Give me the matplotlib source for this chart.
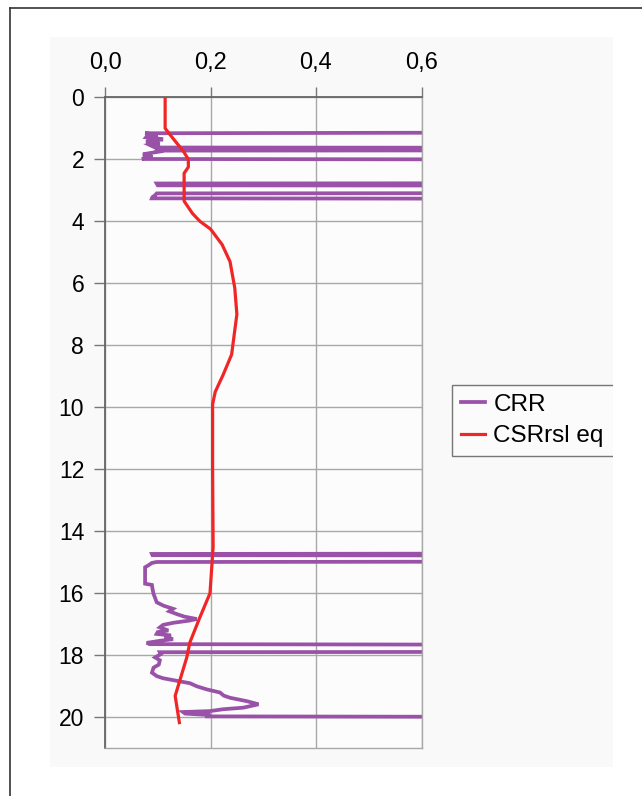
import matplotlib
matplotlib.use("Agg")
import matplotlib.pyplot as plt
from matplotlib.lines import Line2D
from matplotlib.patches import Rectangle

plt.rcParams['font.family'] = ['Liberation Sans', 'DejaVu Sans']

W, H = 642, 796

# CRR profile (depth m, value); 2.0 = off-scale (non liquefiable)
crr_depth = [1.10, 1.16, 1.19, 1.22, 1.25, 1.29, 1.33, 1.36, 1.40, 1.43, 1.47, 1.50,
             1.54, 1.58, 1.62, 1.64, 1.70, 1.72, 1.76, 1.80, 1.84, 1.88, 1.92, 1.96,
             1.99, 2.03, 2.76, 2.78, 2.84, 2.86, 3.08, 3.10, 3.16, 3.22, 3.26, 3.29,
             14.70, 14.73, 14.77, 14.80, 14.96, 14.99, 15.02, 15.10, 15.16, 15.40,
             15.69, 15.73, 15.85, 16.02, 16.15, 16.29, 16.40, 16.45, 16.50, 16.58,
             16.67, 16.75, 16.83, 16.88, 16.95, 17.02, 17.10, 17.20, 17.25, 17.31,
             17.36, 17.42, 17.48, 17.53, 17.60, 17.64, 17.69, 17.87, 17.90, 17.96,
             18.07, 18.16, 18.30, 18.40, 18.56, 18.67, 18.74, 18.80, 18.86, 18.90,
             19.00, 19.10, 19.20, 19.30, 19.37, 19.48, 19.58, 19.69, 19.74, 19.80,
             19.83, 19.88, 19.93, 19.97, 20.02]
crr_value = [2.0, 0.076, 0.090, 0.100, 0.080, 0.078, 0.100, 0.110, 0.085, 0.078, 0.090, 0.104,
             0.085, 0.090, 0.095, 2.0, 2.0, 0.095, 0.100, 0.085, 0.072, 0.080, 0.090, 0.075,
             0.070, 2.0, 2.0, 0.098, 0.100, 2.0, 2.0, 0.098, 0.095, 0.090, 0.089, 2.0,
             2.0, 0.089, 0.090, 2.0, 2.0, 0.098, 0.089, 0.082, 0.076, 0.076,
             0.076, 0.089, 0.090, 0.092, 0.095, 0.098, 0.111, 0.120, 0.129, 0.122,
             0.136, 0.150, 0.174, 0.160, 0.130, 0.110, 0.104, 0.120, 0.100, 0.098,
             0.125, 0.113, 0.129, 0.105, 0.079, 0.085, 2.0, 2.0, 0.104, 0.106,
             0.095, 0.104, 0.102, 0.092, 0.089, 0.098, 0.110, 0.129, 0.148, 0.161,
             0.174, 0.193, 0.218, 0.225, 0.237, 0.269, 0.291, 0.262, 0.224, 0.199,
             0.148, 0.152, 0.200, 0.190, 2.0]

# CSR (rsl eq) profile
csr_depth = [0.0, 1.0, 1.2, 1.75, 2.0, 2.25, 2.45, 3.35, 3.75, 4.0, 4.25, 4.75, 5.3,
             6.15, 7.0, 8.3, 8.95, 9.5, 9.9, 12.0, 14.5, 16.0, 16.77, 17.58, 18.07,
             19.31, 20.17]
csr_value = [0.114, 0.114, 0.123, 0.149, 0.158, 0.158, 0.150, 0.150, 0.166, 0.180,
             0.200, 0.222, 0.237, 0.246, 0.250, 0.240, 0.224, 0.209, 0.204, 0.204,
             0.205, 0.199, 0.180, 0.161, 0.155, 0.133, 0.141]

x_ticks = [0.0, 0.2, 0.4, 0.6]
x_labels = ['0,0', '0,2', '0,4', '0,6']
y_ticks = list(range(0, 21, 2))


def fx(px):
    return px / W


def fy(py):
    return 1 - py / H


fig = plt.figure(figsize=(W / 100, H / 100), dpi=100)
fig.patch.set_facecolor('white')

# chart area background and outer frame
fig.add_artist(Rectangle((fx(50), fy(767)), fx(613) - fx(50), fy(37) - fy(767),
                         transform=fig.transFigure, facecolor='#f9f9f9',
                         edgecolor='none', zorder=0))
fig.add_artist(Line2D([fx(10), fx(10)], [fy(8), 0], transform=fig.transFigure,
                      color='#333333', lw=1.2))
fig.add_artist(Line2D([fx(10), 1], [fy(8), fy(8)], transform=fig.transFigure,
                      color='#333333', lw=1.2))

ax = fig.add_axes([fx(105), fy(748.3), fx(421.5) - fx(105), fy(97.3) - fy(748.3)])
ax.set_facecolor('#fcfcfc')

ax.plot(crr_value, crr_depth, color='#9a52a8', lw=2.7, label='CRR',
        solid_joinstyle='miter')
ax.plot(csr_value, csr_depth, color='#f02626', lw=2.3, label='CSRrsl eq')

ax.set_xlim(0, 0.6)
ax.set_ylim(21, 0)
ax.xaxis.tick_top()
ax.set_xticks(x_ticks)
ax.set_xticklabels(x_labels)
ax.set_yticks(y_ticks)
ax.set_yticklabels([str(t) for t in y_ticks])
ax.tick_params(axis='x', direction='out', length=7, width=1, color='#777777',
               labelsize=17, pad=10)
ax.tick_params(axis='y', direction='out', length=8, width=1, color='#777777',
               labelsize=16.5, pad=7)
ax.grid(True, color='#a8a8a8', lw=1)
ax.set_axisbelow(True)
for side in ['left', 'top']:
    ax.spines[side].set_color('#666666')
    ax.spines[side].set_linewidth(1.3)
for side in ['right', 'bottom']:
    ax.spines[side].set_color('#a8a8a8')
    ax.spines[side].set_linewidth(1)

# legend box runs past the chart area and gets cut off at its right edge
leg = fig.legend(loc='upper left',
                 bbox_to_anchor=(fx(452), fy(459), fx(640) - fx(452), fy(385) - fy(459)),
                 bbox_transform=fig.transFigure, mode='expand', fontsize=17.5,
                 frameon=True, fancybox=False, handlelength=1.0, handletextpad=0.35,
                 borderpad=0.35, labelspacing=0.4, borderaxespad=0)
leg.get_frame().set_edgecolor('#555555')
leg.get_frame().set_linewidth(1)
leg.get_frame().set_facecolor('#fcfcfc')

fig.add_artist(Rectangle((fx(613), 0), 1 - fx(613), fy(37), transform=fig.transFigure,
                         facecolor='white', edgecolor='none', zorder=10))

fig.savefig('out.png', dpi=100)
